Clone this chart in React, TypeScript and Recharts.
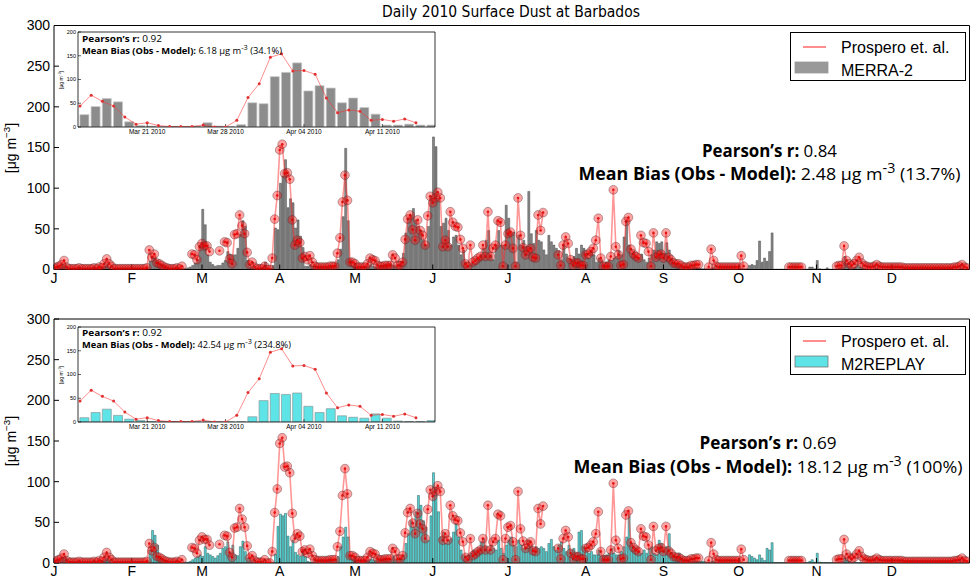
import React from 'react';
import { ComposedChart, Bar, Line, XAxis, YAxis } from 'recharts';

const MONTH_START = [0, 31, 59, 90, 120, 151, 181, 212, 243, 273, 304, 334];
const MONTH_LABELS = ['J', 'F', 'M', 'A', 'M', 'J', 'J', 'A', 'S', 'O', 'N', 'D'];
const Y_TICKS = [0, 50, 100, 150, 200, 250, 300];

const n = null;
// Prospero et al. observations, one value per day of 2010 (null = no sample)
const OBS: (number | null)[] = [
  /* Jan */ 2, 3, 4, 6, 11, 3, 1, 1, 1, 1, 2, 1, 1, 1, 1, 1, 2, 1, 3, 2, 7, 13, 7, 4, 1, 1, 1, 1, 1, 1, 1,
  /* Feb */ 1, 1, 1, 1, 1, 1, 2, 24, 15, 19, 8, 7, 5, 3, 2, 1, 1, 1, 2, 1, 4, n, n, n, 19, 18, 12, 28,
  /* Mar */ 32, 29, 29, 22, n, n, n, 23, n, 34, 33, 13, 7, 43, 44, 67, 54, 44, 21, 6, 9, 3, 1, 1, 1, 4, 0, 0, 14, 62, 91,
  /* Apr */ 147, 154, 118, 119, 111, 61, 30, 36, 33, 14, 16, 12, 17, 9, 4, 3, 3, 3, 3, 3, 4, 4, 4, 20, 39, 83, 116, 85, 9, 9,
  /* May */ 7, 3, 3, 3, 3, 7, 14, 12, 11, 5, 4, 4, 5, 5, 5, 18, 14, 5, 5, 9, 37, 62, 67, 49, 36, 61, 48, 42, 30, 66, 90,
  /* Jun */ 82, 88, 95, 88, 28, 36, 28, 71, 58, 53, 52, 37, 26, 7, 4, 30, 9, 11, 14, 16, 30, 16, 71, 16, 26, 30, 60, 58, 4, 30,
  /* Jul */ 44, 46, 26, 4, 88, 42, 27, 18, 23, 26, 15, 14, 67, 48, 70, n, n, n, n, n, 18, 5, 30, 40, 32, 12, 5, 8, 8, 5, 5,
  /* Aug */ 18, 19, 22, 26, 36, 63, 14, 4, 4, 4, 16, 98, 28, 18, 5, 6, 59, 64, 25, 19, 16, 14, 42, 33, 32, 22, 4, 45, 15, 18, 19,
  /* Sep */ 14, 45, 15, 12, 8, 7, 7, 5, 3, 3, 3, 5, 5, 6, 6, n, n, n, 3, 25, 11, 4, 3, 3, 3, 3, 3, 3, 3, 3,
  /* Oct */ 3, 17, 4, n, n, n, n, n, n, n, n, n, n, n, n, n, n, n, n, n, 3, 3, 3, 3, 3, 3, n, n, n, n, n,
  /* Nov */ n, n, n, n, n, n, n, n, 4, 5, 5, 29, 11, 7, 5, 7, 11, 15, 8, 5, 4, 3, 3, 4, 6, 4, 3, 3, 3, 3,
  /* Dec */ 3, 3, 3, 3, 3, 2, 2, 2, 2, 2, 2, 2, 2, 2, 2, 2, 2, 2, 2, 2, 2, 2, 2, 2, 2, 3, 3, 4, 6, 3, 2,
];

// MERRA-2 daily surface dust
const MERRA2: number[] = [
  /* Jan */ 2, 3, 3, 4, 5, 3, 1, 1, 0.5, 0.5, 0.5, 0.5, 0.5, 0.5, 0.5, 0.5, 1, 1, 1, 2, 4, 6, 3, 1, 0.5, 0.5, 0.5, 0.5, 0.5, 0.5, 0.5,
  /* Feb */ 0.5, 0.5, 0.5, 0.5, 0.5, 0.5, 1, 10, 16, 14, 11, 7, 6, 5, 3, 1, 1, 1, 1, 1, 1, 1, 2, 3, 5, 8, 12, 30,
  /* Mar */ 74, 55, 18, 9, 6, 4, 5, 5, 8, 11, 22, 19, 18, 18, 26, 43, 60, 53, 11, 3, 2, 1, 1, 1, 2, 9, 2, 1, 5, 51, 49,
  /* Apr */ 106, 115, 135, 76, 87, 82, 51, 61, 41, 27, 4, 4, 6, 4, 4, 3, 2, 2, 2, 2, 3, 5, 8, 12, 25, 65, 149, 60, 12, 4,
  /* May */ 3, 2, 2, 3, 4, 5, 6, 4, 3, 3, 4, 5, 6, 8, 7, 5, 4, 6, 10, 20, 45, 63, 67, 75, 61, 53, 48, 36, 30, 53, 90,
  /* Jun */ 163, 151, 88, 53, 57, 63, 48, 30, 40, 42, 30, 18, 24, 9, 5, 7, 9, 8, 14, 18, 26, 36, 48, 18, 12, 30, 48, 30, 30, 79,
  /* Jul */ 63, 44, 46, 9, 42, 30, 36, 28, 96, 44, 32, 48, 36, 34, 24, 18, 42, 34, 30, 26, 23, 12, 30, 19, 14, 12, 16, 26, 19, 30, 26,
  /* Aug */ 20, 14, 24, 18, 9, 14, 12, 7, 9, 12, 11, 14, 16, 23, 18, 40, 61, 30, 20, 22, 16, 14, 19, 12, 9, 14, 18, 24, 34, 32, 34,
  /* Sep */ 20, 33, 24, 14, 9, 7, 5, 4, 3, 3, 2, 2, 2, 2, 2, 1, 1, 1, 1, 2, 2, 1, 1, 1, 1, 1, 1, 1, 1, 1,
  /* Oct */ 1, 1, 1, 1, 5, 6, 5, 11, 35, 9, 14, 10, 22, 45, 0.5, 0.5, 0.5, 0.5, 0.5, 0.5, 0.5, 0.5, 0.5, 0.5, 0.5, 0.5, 0.5, 0.5, 3, 3, 1,
  /* Nov */ 11, 1, 0.5, 0.5, 2, 0.5, 0.5, 0.5, 1, 2, 3, 16, 8, 4, 2, 3, 5, 3, 2, 1, 0.5, 0.5, 0.5, 0.5, 0.5, 0.5, 0.5, 0.5, 0.5, 0.5,
  /* Dec */ 0.5, 0.5, 0.5, 0.5, 0.5, 0.5, 0.5, 0.5, 0.5, 0.5, 0.5, 0.5, 0.5, 0.5, 0.5, 0.5, 0.5, 0.5, 0.5, 0.5, 0.5, 0.5, 0.5, 0.5, 0.5, 0.5, 0.5, 0.5, 0.5, 0.5, 0.5,
];

// M2REPLAY daily surface dust
const M2REPLAY: number[] = [
  /* Jan */ 3, 4, 5, 6, 8, 5, 2, 1, 0.5, 0.5, 0.5, 0.5, 0.5, 0.5, 0.5, 0.5, 1, 1, 1, 2, 4, 6, 4, 1, 0.5, 0.5, 0.5, 0.5, 0.5, 0.5, 0.5,
  /* Feb */ 0.5, 0.5, 0.5, 0.5, 0.5, 0.5, 1, 16, 40, 34, 22, 8, 5, 3, 2, 1, 1, 1, 1, 1, 1, 1, 1, 2, 4, 6, 8, 10,
  /* Mar */ 8, 20, 12, 10, 8, 6, 9, 12, 18, 20, 26, 12, 22, 10, 9, 20, 27, 14, 6, 3, 1, 1, 0.5, 0.5, 0.5, 0.5, 0.3, 0.3, 0.5, 11, 45,
  /* Apr */ 60, 58, 61, 33, 20, 28, 13, 10, 8, 17, 8, 2, 1, 1, 3, 2, 2, 2, 2, 2, 3, 3, 5, 8, 20, 32, 44, 32, 10, 4,
  /* May */ 3, 2, 2, 2, 3, 4, 5, 4, 3, 3, 3, 4, 5, 5, 4, 8, 4, 6, 6, 10, 24, 36, 52, 44, 63, 83, 71, 52, 44, 28, 58,
  /* Jun */ 111, 93, 63, 32, 38, 24, 28, 30, 38, 48, 32, 16, 10, 8, 10, 12, 16, 14, 18, 26, 30, 20, 16, 22, 18, 16, 28, 18, 12, 22,
  /* Jul */ 28, 32, 22, 20, 28, 22, 18, 20, 28, 20, 18, 20, 18, 20, 18, 14, 24, 29, 20, 16, 22, 26, 18, 14, 22, 16, 18, 12, 38, 40, 20,
  /* Aug */ 16, 12, 14, 10, 10, 16, 8, 9, 10, 12, 18, 12, 10, 10, 14, 20, 32, 57, 24, 20, 18, 14, 12, 16, 12, 18, 20, 12, 10, 28, 24,
  /* Sep */ 16, 20, 36, 12, 10, 8, 12, 6, 4, 3, 3, 2, 2, 2, 2, 2, 2, 1, 1, 2, 2, 1, 1, 1, 1, 1, 1, 1, 1, 1,
  /* Oct */ 1, 1, 1, 1, 10, 8, 6, 4, 10, 6, 3, 18, 16, 25, 0.5, 0.5, 0.5, 0.5, 0.5, 0.5, 0.5, 0.5, 0.5, 0.5, 0.5, 0.5, 0.5, 0.5, 2, 4, 1,
  /* Nov */ 12, 1, 0.5, 0.5, 0.5, 0.5, 0.5, 0.5, 0.5, 0.5, 2, 6, 4, 2, 0.5, 0.5, 0.5, 0.5, 0.5, 0.5, 0.5, 0.5, 0.5, 0.5, 0.5, 0.5, 0.5, 0.5, 0.5, 0.5,
  /* Dec */ 0.5, 0.5, 0.5, 0.5, 0.5, 0.5, 0.5, 0.5, 0.5, 0.5, 0.5, 0.5, 0.5, 0.5, 0.5, 0.5, 0.5, 0.5, 0.5, 0.5, 0.5, 0.5, 0.5, 0.5, 0.5, 0.5, 0.5, 0.5, 0.5, 0.5, 0.5,
];

// Inset: 15 Mar - 15 Apr 2010
const INSET_TICK_IDX = [6, 13, 20, 27];
const INSET_TICK_LABELS = ['Mar 21 2010', 'Mar 28 2010', 'Apr 04 2010', 'Apr 11 2010'];
const INSET_Y_TICKS = [0, 50, 100, 150, 200];
const INSET_OBS: (number | null)[] = [44, 67, 54, 44, 21, 6, 9, 3, 1, 1, 1, 4, 0, 0, 14, 62, 91, 147, 154, 118, 119, 111, 61, 30, 36, 33, 14, 16, 12, 17, 9, null];
const INSET_MERRA2 = [26, 43, 60, 53, 11, 3, 2, 1, 1, 1, 2, 9, 2, 1, 5, 51, 49, 106, 115, 135, 76, 87, 82, 51, 61, 41, 27, 4, 4, 6, 4, 4];
const INSET_M2REPLAY = [9, 20, 27, 14, 6, 3, 1, 1, 0.5, 0.5, 0.5, 0.5, 0.3, 0.3, 0.5, 11, 45, 60, 58, 61, 33, 20, 28, 13, 10, 8, 17, 8, 2, 1, 1, 3];

const TICK_FONT = "'Liberation Sans', Arial, sans-serif";
const STAT_FONT = "'Open Sans', 'Noto Sans', sans-serif";

const ObsDot = (props: any) => {
  const { cx, cy, value, index } = props;
  if (value == null || cx == null || cy == null || isNaN(cy)) return <g key={`o${index}`} />;
  return (
    <g key={`o${index}`}>
      <circle cx={cx} cy={cy} r={4.4} fill="#ff0000" fillOpacity={0.36} stroke="#553333" strokeOpacity={0.5} strokeWidth={0.8} />
      <circle cx={cx} cy={cy} r={1.3} fill="#dd0000" fillOpacity={0.85} />
    </g>
  );
};

const InsetDot = (props: any) => {
  const { cx, cy, value, index } = props;
  if (value == null || cx == null || cy == null || isNaN(cy)) return <g key={`i${index}`} />;
  return <circle key={`i${index}`} cx={cx} cy={cy} r={1.5} fill="#e03030" />;
};

function Panel({ model, fill, stroke, top, plotTop, plotBottom, height }: any) {
  const data = OBS.map((o, d) => ({ d, obs: o, model: model[d] }));
  return (
    <div style={{ position: 'absolute', left: 0, top, width: 977, height }}>
      <ComposedChart width={977} height={height} data={data} margin={{ top: 0, right: 0, bottom: 0, left: 0 }}>
        <XAxis xAxisId="x" type="number" dataKey="d" domain={[0, 365]} allowDataOverflow ticks={MONTH_START} interval={0}
          tickFormatter={(v: number) => MONTH_LABELS[MONTH_START.indexOf(v)] ?? ''}
          height={height - plotBottom} tickSize={-5} tickMargin={8.5}
          axisLine={{ stroke: '#000', strokeWidth: 1 }} tickLine={{ stroke: '#000' }}
          tick={{ fill: '#000', fontSize: 14, fontFamily: TICK_FONT }} />
        <XAxis xAxisId="bx" type="number" dataKey="d" domain={[-0.4, 364.6]} allowDataOverflow hide height={0} />
        <XAxis xAxisId="t" type="number" dataKey="d" orientation="top" domain={[0, 365]} allowDataOverflow ticks={MONTH_START} interval={0}
          height={plotTop} tickSize={-5} tick={false}
          axisLine={{ stroke: '#000', strokeWidth: 1 }} tickLine={{ stroke: '#000' }} />
        <YAxis yAxisId="l" type="number" domain={[0, 300]} allowDataOverflow ticks={Y_TICKS} interval={0}
          width={54} tickSize={-5} tickMargin={9}
          axisLine={{ stroke: '#000', strokeWidth: 1 }} tickLine={{ stroke: '#000' }}
          tick={{ fill: '#000', fontSize: 14, fontFamily: TICK_FONT }} />
        <YAxis yAxisId="r" type="number" orientation="right" domain={[0, 300]} allowDataOverflow ticks={Y_TICKS} interval={0}
          width={7.5} tickSize={-5} tick={false}
          axisLine={{ stroke: '#000', strokeWidth: 1 }} tickLine={{ stroke: '#000' }} />
        <Bar xAxisId="bx" yAxisId="l" dataKey="model" barSize={2} fill={fill} stroke={stroke} strokeWidth={0.5} isAnimationActive={false} />
        <Line xAxisId="x" yAxisId="l" dataKey="obs" type="linear" stroke="#ff3030" strokeOpacity={0.5} strokeWidth={1.6}
          dot={ObsDot} activeDot={false} isAnimationActive={false} />
        <Line xAxisId="t" yAxisId="r" dataKey="obs" stroke="none" dot={false} activeDot={false} isAnimationActive={false} />
      </ComposedChart>
    </div>
  );
}

function Inset({ model, fill, stroke, boxTop }: any) {
  const data = INSET_OBS.map((o, i) => ({ i, obs: o, model: model[i] }));
  const left = 48;
  const W = 392;
  const H = 115;
  return (
    <div style={{ position: 'absolute', left, top: boxTop - 10, width: W, height: H }}>
      <div style={{ position: 'absolute', left: 30, top: 10, width: 357, height: 95, background: '#fff' }} />
      <div style={{ position: 'absolute', left: 0, top: 0 }}>
        <ComposedChart width={W} height={H} data={data} margin={{ top: 0, right: 0, bottom: 0, left: 0 }}>
          <XAxis xAxisId="x" type="number" dataKey="i" domain={[-0.18, 31.7]} allowDataOverflow ticks={INSET_TICK_IDX} interval={0}
            tickFormatter={(v: number) => INSET_TICK_LABELS[INSET_TICK_IDX.indexOf(v)] ?? ''}
            height={10} tickSize={-3} tickMargin={5}
            axisLine={{ stroke: '#000', strokeWidth: 0.8 }} tickLine={{ stroke: '#000', strokeWidth: 0.6 }}
            tick={{ fill: '#000', fontSize: 6.5, fontFamily: TICK_FONT }} />
          <XAxis xAxisId="bx" type="number" dataKey="i" domain={[-0.58, 31.3]} allowDataOverflow hide height={0} />
          <XAxis xAxisId="t" type="number" dataKey="i" orientation="top" domain={[-0.18, 31.7]} allowDataOverflow ticks={INSET_TICK_IDX} interval={0}
            height={10} tickSize={-3} tick={false}
            axisLine={{ stroke: '#000', strokeWidth: 0.8 }} tickLine={{ stroke: '#000', strokeWidth: 0.6 }} />
          <YAxis yAxisId="l" type="number" domain={[0, 200]} allowDataOverflow ticks={INSET_Y_TICKS} interval={0}
            width={30} tickSize={-3} tickMargin={5}
            axisLine={{ stroke: '#000', strokeWidth: 0.8 }} tickLine={{ stroke: '#000', strokeWidth: 0.6 }}
            tick={{ fill: '#000', fontSize: 5.5, fontFamily: TICK_FONT }} />
          <YAxis yAxisId="r" type="number" orientation="right" domain={[0, 200]} allowDataOverflow ticks={INSET_Y_TICKS} interval={0}
            width={5} tickSize={-3} tick={false}
            axisLine={{ stroke: '#000', strokeWidth: 0.8 }} tickLine={{ stroke: '#000', strokeWidth: 0.6 }} />
          <Bar xAxisId="bx" yAxisId="l" dataKey="model" barSize={9} fill={fill} stroke={stroke} strokeWidth={0.7} isAnimationActive={false} />
          <Line xAxisId="x" yAxisId="l" dataKey="obs" type="linear" stroke="#ff3030" strokeOpacity={0.55} strokeWidth={1}
            dot={InsetDot} activeDot={false} isAnimationActive={false} />
          <Line xAxisId="t" yAxisId="r" dataKey="obs" stroke="none" dot={false} activeDot={false} isAnimationActive={false} />
        </ComposedChart>
      </div>
    </div>
  );
}

function UnitLabel({ x, y, size }: any) {
  return (
    <text transform={`translate(${x},${y}) rotate(-90)`} textAnchor="middle" fontSize={size} fontFamily={TICK_FONT} fill="#000">
      [μg m<tspan dy={-size * 0.4} fontSize={size * 0.7}>−3</tspan><tspan dy={size * 0.4}>]</tspan>
    </text>
  );
}

function Stats({ cx, y1, y2, r, bias, pct, w1, w2, size }: any) {
  return (
    <g fontFamily={STAT_FONT} fill="#000">
      <text x={cx} y={y1} textAnchor="middle" fontSize={size} textLength={w1} lengthAdjust="spacingAndGlyphs">
        <tspan fontWeight="bold">Pearson’s r:</tspan> {r}
      </text>
      <text x={cx} y={y2} textAnchor="middle" fontSize={size} textLength={w2} lengthAdjust="spacingAndGlyphs">
        <tspan fontWeight="bold">Mean Bias (Obs - Model):</tspan> {bias} μg m<tspan dy={-size * 0.42} fontSize={size * 0.8}>-3</tspan>
        <tspan dy={size * 0.42}> ({pct})</tspan>
      </text>
    </g>
  );
}

function InsetStats({ x, y1, y2, bias, pct, w2 }: any) {
  const size = 9.5;
  return (
    <g fontFamily={STAT_FONT} fill="#000">
      <text x={x} y={y1} fontSize={size} textLength={80} lengthAdjust="spacingAndGlyphs">
        <tspan fontWeight="bold">Pearson’s r:</tspan> 0.92
      </text>
      <text x={x} y={y2} fontSize={size} textLength={w2} lengthAdjust="spacingAndGlyphs">
        <tspan fontWeight="bold">Mean Bias (Obs - Model):</tspan> {bias} μg m<tspan dy={-3.5} fontSize={7.5}>-3</tspan>
        <tspan dy={3.5}> ({pct})</tspan>
      </text>
    </g>
  );
}

function Legend({ y, label, fill, stroke }: any) {
  return (
    <g fontFamily={TICK_FONT} fontSize={16} fill="#000">
      <rect x={790.5} y={y} width={175} height={48} fill="#fff" stroke="#000" strokeWidth={1} />
      <line x1={803} x2={826} y1={y + 14.5} y2={y + 14.5} stroke="#ff8080" strokeWidth={1.8} />
      <text x={841} y={y + 20}>Prospero et. al.</text>
      <rect x={795} y={y + 29.5} width={33} height={11} fill={fill} stroke={stroke} strokeWidth={0.8} />
      <text x={841} y={y + 43}>{label}</text>
    </g>
  );
}

export default function App() {
  return (
    <div style={{ position: 'absolute', left: 0, top: 0, width: 977, height: 585, background: '#fff', overflow: 'hidden' }}>
      <Panel model={MERRA2} fill="#858585" stroke="#4a4a4a" top={0} plotTop={25.5} plotBottom={269.5} height={292} />
      <Panel model={M2REPLAY} fill="#58d2d2" stroke="#2f5a5a" top={292} plotTop={27} plotBottom={271} height={293} />
      <Inset model={INSET_MERRA2} fill="#8c8c8c" stroke="#c8c8c8" boxTop={31.7} />
      <Inset model={INSET_M2REPLAY} fill="#5ee3e6" stroke="#8a9a9a" boxTop={326.7} />
      <svg width={977} height={585} style={{ position: 'absolute', left: 0, top: 0, pointerEvents: 'none' }}>
        <text x={511} y={17} textAnchor="middle" fontSize={15} fontFamily="'DejaVu Sans Condensed', 'Liberation Sans Narrow', sans-serif"
          textLength={258} lengthAdjust="spacingAndGlyphs" fill="#000">Daily 2010 Surface Dust at Barbados</text>
        <UnitLabel x={16} y={148} size={14} />
        <UnitLabel x={16} y={441} size={14} />
        <UnitLabel x={63} y={80} size={5} />
        <UnitLabel x={63} y={375} size={5} />
        <Stats cx={769.5} y1={157} y2={180} r="0.84" bias="2.48" pct="13.7%" w1={135} w2={382} size={17} />
        <Stats cx={768} y1={449} y2={473} r="0.69" bias="18.12" pct="100%" w1={137} w2={389} size={17} />
        <InsetStats x={82} y1={41.5} y2={53.5} bias="6.18" pct="34.1%" w2={200} />
        <InsetStats x={82} y1={336} y2={347.5} bias="42.54" pct="234.8%" w2={209} />
        <Legend y={32.5} label="MERRA-2" fill="#999" stroke="#999" />
        <Legend y={326.5} label="M2REPLAY" fill="#5ee3e6" stroke="#777" />
      </svg>
    </div>
  );
}
